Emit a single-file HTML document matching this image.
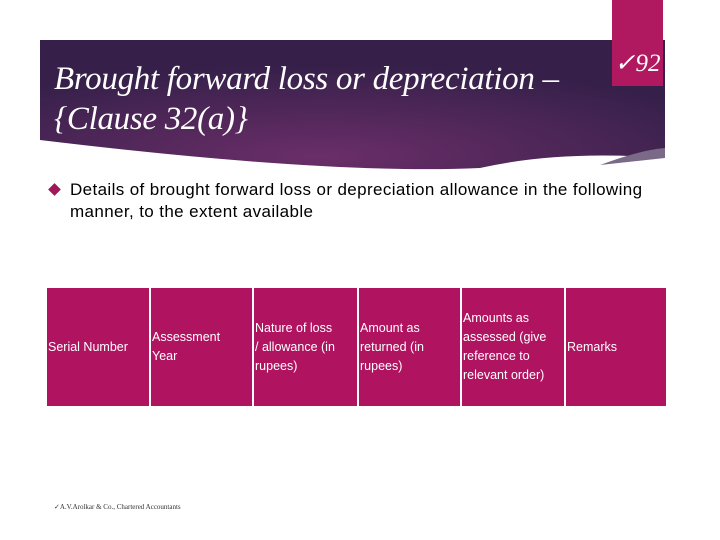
<!DOCTYPE html>
<html><head><meta charset="utf-8"><style>
body{margin:0;width:720px;height:540px;background:#fff;position:relative;overflow:hidden;font-family:"Liberation Sans",sans-serif}
.abs{position:absolute}
.title{left:54px;top:59px;color:#fff;font-family:"Liberation Serif",serif;font-style:italic;font-size:33px;line-height:40px;letter-spacing:-0.3px}
.num{left:612px;top:0;width:51px;height:86px;background:#b0185f;color:#fff;font-family:"Liberation Serif",serif;font-style:italic;font-size:25px;box-sizing:border-box;padding-top:48px;text-align:center}
.cell{position:absolute;top:288px;height:118px;background:#b01461;color:#fff;font-size:12.5px;line-height:19px;display:flex;align-items:center;padding-left:1px;box-sizing:border-box;white-space:nowrap;overflow:hidden}
</style></head><body>
<svg class="abs" style="left:0;top:0" width="720" height="200">
<defs><radialGradient id="g" cx="0.45" cy="0.9" r="0.7"><stop offset="0" stop-color="#6a2e68"/><stop offset="1" stop-color="#36204a"/></radialGradient></defs>
<path d="M40,40 L665,40 L665,158 Q560,150 480,168 Q330,175 40,140 Z" fill="url(#g)"/>
<path d="M600,165 Q640,150 665,148 L665,158 Z" fill="#7a6a88"/>
</svg>
<div class="abs num">✓92</div>
<div class="abs title">Brought forward loss or depreciation –<br>{Clause 32(a)}</div>
<div class="abs" style="left:50px;top:185px;width:9px;height:9px;background:#a0185a;transform:rotate(45deg)"></div>
<div class="abs" style="left:70px;top:179px;font-size:17px;line-height:22px;color:#000;letter-spacing:0.38px">Details of brought forward loss or depreciation allowance in the following<br>manner, to the extent available</div>
<div>
<div class="cell" style="left:47px;width:102px">Serial Number</div>
<div class="cell" style="left:151px;width:101px">Assessment<br>Year</div>
<div class="cell" style="left:254px;width:103px">Nature of loss<br>/ allowance (in<br>rupees)</div>
<div class="cell" style="left:359px;width:101px">Amount as<br>returned (in<br>rupees)</div>
<div class="cell" style="left:462px;width:102px">Amounts as<br>assessed (give<br>reference to<br>relevant order)</div>
<div class="cell" style="left:566px;width:100px">Remarks</div>
</div>
<div class="abs" style="left:54px;top:503px;font-size:7px;color:#333;font-family:'Liberation Serif',serif">✓A.V.Arolkar &amp; Co., Chartered Accountants</div>
</body></html>
